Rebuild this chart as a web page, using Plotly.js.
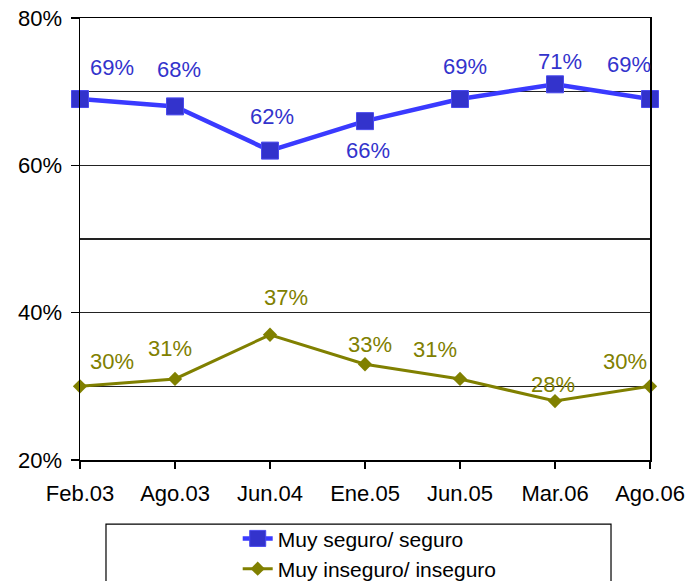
<!DOCTYPE html>
<html>
<head>
<meta charset="utf-8">
<script src="https://cdn.plot.ly/plotly-3.0.1.min.js"></script>
<style>html,body{margin:0;padding:0;background:#fff;}#chart{width:689px;height:581px;}</style>
</head>
<body>
<div id="chart"></div>
<script>
const categories = ["Feb.03", "Ago.03", "Jun.04", "Ene.05", "Jun.05", "Mar.06", "Ago.06"];
const seguroValues = [69, 68, 62, 66, 69, 71, 69];
const insegurovalues = [30, 31, 37, 33, 31, 28, 30];
const seriesNames = ["Muy seguro/ seguro", "Muy inseguro/ inseguro"];
const yTickValues = [20, 40, 60, 80];
const yTickLabels = ["20%", "40%", "60%", "80%"];

const FONT = "Liberation Sans, Arial, sans-serif";
const FS = 22;
const BLUE_TXT = "#3333cc";
const OLIVE = "#808000";

// label offsets (pixels) relative to each point — layout only
const blueShift = [[32, 32], [4, 37], [2, 34], [3, -29], [5, 33], [5, 23], [-21, 35]];
const oliveShift = [[32, 25], [-5, 30], [16, 37], [5, 20], [-25, 29], [-2, 17], [-25, 25]];

const traces = [
  {
    x: categories, y: seguroValues, name: seriesNames[0],
    type: "scatter", mode: "lines+markers", cliponaxis: false,
    line: {color: "#3a3aff", width: 4.5},
    marker: {symbol: "square", size: 17, color: "#3333cc", line: {color: "#4a4aee", width: 1}}
  },
  {
    x: categories, y: insegurovalues, name: seriesNames[1],
    type: "scatter", mode: "lines+markers", cliponaxis: false,
    line: {color: OLIVE, width: 3},
    marker: {symbol: "diamond", size: 11, color: OLIVE}
  }
];

const annotations = [];
categories.forEach((c, i) => {
  annotations.push({x: i, y: seguroValues[i], xref: "x", yref: "y", text: seguroValues[i] + "%",
    showarrow: false, xshift: blueShift[i][0], yshift: blueShift[i][1],
    font: {family: FONT, size: FS, color: BLUE_TXT}});
  annotations.push({x: i, y: insegurovalues[i], xref: "x", yref: "y", text: insegurovalues[i] + "%",
    showarrow: false, xshift: oliveShift[i][0], yshift: oliveShift[i][1],
    font: {family: FONT, size: FS, color: OLIVE}});
});

const layout = {
  width: 689, height: 581,
  margin: {l: 80, r: 39, t: 18, b: 121, autoexpand: false},
  paper_bgcolor: "#fff", plot_bgcolor: "#fff",
  font: {family: FONT, size: FS, color: "#000"},
  showlegend: true,
  legend: {
    xref: "container", yref: "container",
    x: 0.345, xanchor: "left", y: 0.108, yanchor: "top",
    bgcolor: "rgba(0,0,0,0)", borderwidth: 0,
    font: {family: FONT, size: 21, color: "#000"},
    tracegroupgap: 0, itemwidth: 30
  },
  xaxis: {
    type: "category", range: [0, 6], showgrid: false,
    showline: true, linecolor: "#000", linewidth: 1.5, mirror: true,
    ticks: "outside", ticklen: 7, tickcolor: "#000", tickwidth: 1.5,
    ticklabelstandoff: 6,
    tickfont: {family: FONT, size: FS, color: "#000"}, zeroline: false, fixedrange: true
  },
  yaxis: {
    range: [20, 80], tickvals: yTickValues, ticktext: yTickLabels,
    showline: true, linecolor: "#000", linewidth: 1.5, mirror: true,
    ticks: "outside", ticklen: 8, tickcolor: "#000", tickwidth: 1.5,
    ticklabelstandoff: 4,
    showgrid: true, gridcolor: "#222", gridwidth: 1.2,
    minor: {dtick: 10, tick0: 0, showgrid: true, gridcolor: "#222", gridwidth: 1.2, ticks: ""},
    tickfont: {family: FONT, size: FS, color: "#000"}, zeroline: false, fixedrange: true
  },
  shapes: [{
    type: "rect", xref: "paper", yref: "paper",
    x0: 0.0456, x1: 0.9316, y0: -0.145, y1: -0.40,
    line: {color: "#000", width: 1.2}, fillcolor: "rgba(0,0,0,0)", layer: "below"
  }],
  annotations: annotations
};

Plotly.newPlot("chart", traces, layout, {displayModeBar: false, staticPlot: true});
</script>
</body>
</html>
